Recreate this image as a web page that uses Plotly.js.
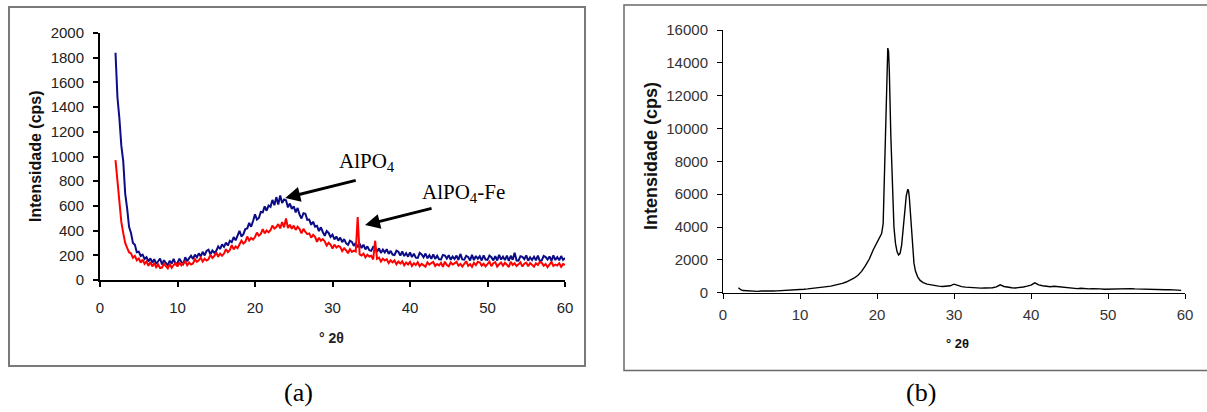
<!DOCTYPE html>
<html>
<head>
<meta charset="utf-8">
<script src="https://cdn.plot.ly/plotly-3.0.1.min.js"></script>
<style>html,body{margin:0;padding:0;background:#fff;}#chart{width:1207px;height:412px;}</style>
</head>
<body>
<div id="chart"></div>
<script>
// ---- Panel (a): XRD of AlPO4 (blue) and AlPO4-Fe (red), sampled every 0.25° from 2°
const startA = 2;
const stepA = 0.25;
const alpo4 = [
1840,1480,1310,1090,
960,700,580,430,
380,300,285,225,
230,195,205,170,
185,150,175,140,
168,131,152,174,
125,160,138,119,
156,133,171,128,
139,172,146,130,
185,152,177,196,
170,205,183,216,
191,228,199,236,
246,208,239,221,
236,272,251,289,
268,303,279,318,
306,348,321,362,
398,352,371,412,
418,463,431,478,
532,489,502,551,
548,596,561,603,
592,648,606,671,
612,684,623,651,
645,588,619,576,
597,548,583,529,
498,541,536,487,
489,447,472,431,
438,396,427,389,
358,396,381,349,
367,328,352,319,
344,306,331,298,
284,318,309,276,
301,265,294,259,
286,248,272,241,
236,269,262,228,
257,219,246,224,
249,211,236,206,
202,237,229,197,
231,194,218,189,
224,186,212,181,
179,219,207,184,
214,176,201,172,
207,171,196,168,
166,203,198,174,
201,163,190,170,
198,162,211,167,
165,196,187,158,
203,161,194,171,
192,158,199,166,
163,197,185,159,
194,158,203,166,
189,161,198,155,
196,164,221,158,
157,193,188,169,
199,156,184,162,
188,160,197,153,
158,195,186,166,
191,154,199,162,
186,159,194,163,
178
];
const alpo4Fe = [
970,790,630,470,
380,300,260,225,
215,180,195,160,
175,140,165,130,
150,115,145,110,
138,104,126,97,
101,133,112,94,
129,98,121,138,
109,142,118,131,
152,119,141,126,
134,168,147,159,
181,149,172,158,
168,203,179,194,
223,188,214,196,
214,249,226,241,
282,248,271,257,
284,318,296,309,
352,319,341,327,
348,384,359,373,
412,378,401,386,
404,441,416,429,
452,418,469,426,
498,421,447,414,
441,406,432,413,
378,414,389,371,
377,343,366,349,
309,342,318,331,
312,279,301,286,
254,287,263,276,
267,234,256,241,
216,249,228,238,
231,510,208,199,
214,183,205,190,
196,166,318,171,
181,149,172,158,
168,137,159,143,
158,127,149,133,
151,119,142,126,
147,114,136,121,
144,112,131,119,
108,143,124,137,
146,113,129,118,
139,107,148,121,
111,142,126,135,
147,116,130,109,
134,152,115,128,
106,139,121,146,
143,117,132,110,
129,148,112,136,
145,108,127,141,
116,139,124,105,
148,121,135,113,
127,144,109,132,
141,112,138,119,
108,135,122,146,
139,116,129,104,
131,147,113,125,
118,136,107,129,
122
];

// ---- Panel (b)
const twoThetaB = [2.0,2.3,2.6,3,3.5,4,4.5,5,5.5,6,6.5,7,7.5,8,8.5,9,9.5,10,10.5,11,11.5,12,12.5,13,13.5,14,14.5,15,15.5,16,16.5,17,17.5,18,18.5,19,19.5,20,20.3,20.6,20.8,21.0,21.2,21.4,21.5,21.6,21.8,22.0,22.2,22.4,22.6,22.8,23.0,23.2,23.4,23.6,23.8,24.0,24.1,24.2,24.4,24.6,24.8,25.0,25.3,25.6,26,26.5,27,27.5,28,28.5,29,29.5,30,30.5,31,31.5,32,32.5,33,33.5,34,34.5,35,35.5,36,36.5,37,37.5,38,38.5,39,39.5,40,40.5,41,41.5,42,42.5,43,43.5,44,44.5,45,45.5,46,46.5,47,47.5,48,48.5,49,49.5,50,50.5,51,51.5,52,52.5,53,53.5,54,54.5,55,55.5,56,56.5,57,57.5,58,58.5,59,59.5];
const intensB = [300,180,130,110,90,100,80,100,90,110,100,110,120,130,130,150,170,190,210,230,250,270,300,330,370,400,450,500,570,650,760,880,1050,1300,1650,2050,2600,3100,3300,3600,4200,7500,11500,14900,14700,13500,9500,6000,4000,3000,2500,2300,2400,2900,3800,5000,5900,6300,6200,5800,4300,2800,1800,1300,950,750,620,520,470,430,400,380,380,420,520,420,370,340,320,300,290,280,290,280,300,350,480,380,320,300,290,310,350,400,460,600,480,420,380,360,390,370,330,300,280,260,250,270,240,230,250,220,230,210,220,210,230,210,220,240,250,230,220,210,200,220,200,190,200,180,190,170,160,140];

const yTicksA = [0,200,400,600,800,1000,1200,1400,1600,1800,2000];
const yTicksB = [0,2000,4000,6000,8000,10000,12000,14000,16000];
const yTickTextB = ['0','2000','4000','6000','8000','10000','12000','14000','16000'];
const xTicks = [0,10,20,30,40,50,60];

const W = 1207, H = 412;
const px = v => v / W;
const py = v => 1 - v / H;

const sans = 'Liberation Sans, Arial, sans-serif';
const serif = 'Liberation Serif, Times New Roman, serif';

const traces = [
  {x0: startA, dx: stepA, y: alpo4, type: 'scatter', mode: 'lines', xaxis: 'x', yaxis: 'y',
   line: {color: '#0c0c86', width: 2}, hoverinfo: 'skip'},
  {x0: startA, dx: stepA, y: alpo4Fe, type: 'scatter', mode: 'lines', xaxis: 'x', yaxis: 'y',
   line: {color: '#ff0000', width: 2}, hoverinfo: 'skip'},
  {x: twoThetaB, y: intensB, type: 'scatter', mode: 'lines', xaxis: 'x2', yaxis: 'y2',
   line: {color: '#000000', width: 1.4}, hoverinfo: 'skip'}
];

const axA = {
  showline: true, linecolor: '#000', linewidth: 2, ticks: 'outside', ticklen: 5, tickwidth: 2,
  tickcolor: '#000', showgrid: false, zeroline: false, fixedrange: true,
  tickfont: {family: sans, size: 15, color: '#222'}
};
const axB = {
  showline: true, linecolor: '#000', linewidth: 1, ticks: 'outside', ticklen: 5, tickwidth: 1,
  tickcolor: '#000', showgrid: false, zeroline: false, fixedrange: true,
  tickfont: {family: sans, size: 15, color: '#333'}
};

function label(x, y, text, font, extra) {
  return Object.assign({xref: 'paper', yref: 'paper', x: px(x), y: py(y), text: text,
    showarrow: false, xanchor: 'center', yanchor: 'middle', font: font}, extra || {});
}

const layout = {
  width: W, height: H,
  margin: {l: 0, r: 0, t: 0, b: 0, pad: 0},
  paper_bgcolor: '#fff', plot_bgcolor: 'rgba(0,0,0,0)',
  showlegend: false,
  xaxis: Object.assign({}, axA, {domain: [px(100), px(565)], range: [0, 60], tickvals: xTicks, anchor: 'y', ticklabelstandoff: 8}),
  yaxis: Object.assign({}, axA, {domain: [1 - 280/H, 1 - 33/H], range: [0, 2000], tickvals: yTicksA, anchor: 'x', ticklabelstandoff: 6}),
  xaxis2: Object.assign({}, axB, {domain: [px(723), px(1185)], range: [0, 60], tickvals: xTicks, anchor: 'y2', ticklabelstandoff: 3}),
  yaxis2: Object.assign({}, axB, {domain: [1 - 292.7/H, 1 - 30/H], range: [0, 16000], tickvals: yTicksB, ticktext: yTickTextB, anchor: 'x2', ticklabelstandoff: 6}),
  shapes: [
    {type: 'rect', xref: 'paper', yref: 'paper', x0: px(9), x1: px(585), y0: py(366), y1: py(7),
     line: {color: '#7a7a7a', width: 2}, layer: 'below'},
    {type: 'rect', xref: 'paper', yref: 'paper', x0: px(624), x1: px(1215), y0: py(370.5), y1: py(5),
     line: {color: '#6a6a6a', width: 1.5}, layer: 'below'}
  ],
  annotations: [
    label(35, 156, '<b>Intensidade (cps)</b>', {family: sans, size: 16, color: '#111'}, {textangle: -90}),
    label(331, 338, '<b>° 2θ</b>', {family: sans, size: 14, color: '#222'}),
    label(651, 156, '<b>Intensidade (cps)</b>', {family: sans, size: 18, color: '#111'}, {textangle: -90}),
    label(957, 343, '<b>° 2θ</b>', {family: sans, size: 13, color: '#111'}),
    label(367, 162, 'AlPO<sub>4</sub>', {family: serif, size: 21, color: '#000'}),
    label(463, 193, 'AlPO<sub>4</sub>-Fe', {family: serif, size: 21, color: '#000'}),
    {xref: 'x', yref: 'y', x: 23.9, y: 664, ax: 72, ay: -18, axref: 'pixel', ayref: 'pixel', text: '',
     showarrow: true, arrowhead: 2, arrowsize: 1, arrowwidth: 3, arrowcolor: '#000'},
    {xref: 'x', yref: 'y', x: 34.2, y: 445, ax: 68, ay: -17, axref: 'pixel', ayref: 'pixel', text: '',
     showarrow: true, arrowhead: 2, arrowsize: 1, arrowwidth: 3, arrowcolor: '#000'},
    label(298, 392, '(a)', {family: serif, size: 26, color: '#000'}),
    label(921, 392, '(b)', {family: serif, size: 26, color: '#000'})
  ]
};

Plotly.newPlot('chart', traces, layout, {staticPlot: true, displayModeBar: false});
</script>
</body>
</html>
